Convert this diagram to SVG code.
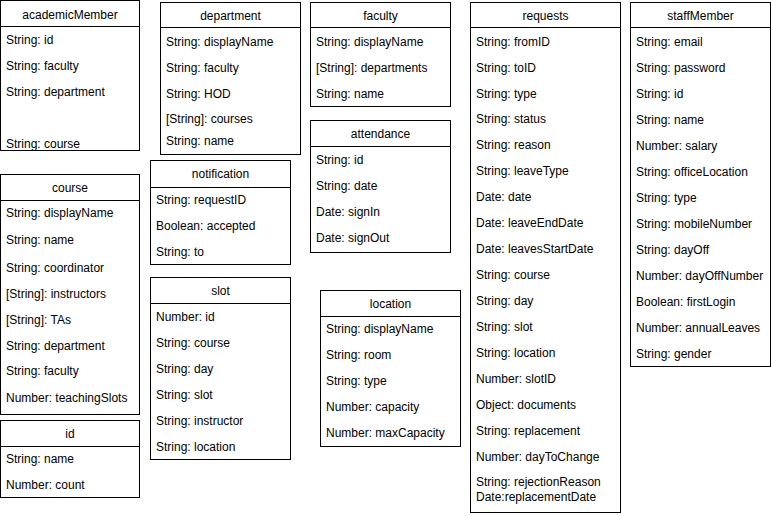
<svg xmlns="http://www.w3.org/2000/svg" width="771" height="516" viewBox="0 0 771 516">
<style>
.box{fill:#fff;stroke:#000;stroke-width:1}
.hd{stroke:#000;stroke-width:1}
text{font-family:"Liberation Sans",Arial,Helvetica,sans-serif;font-size:12px;fill:#000}
.t{text-anchor:middle}
</style>
<rect width="771" height="516" fill="#fff"/>
<g id="academicMember">
<rect class="box" x="0.5" y="0.5" width="139" height="150"/>
<line class="hd" x1="0.5" y1="26.5" x2="139.5" y2="26.5"/>
<text class="t" x="70" y="19">academicMember</text>
<text x="6" y="44">String: id</text>
<text x="6" y="70">String: faculty</text>
<text x="6" y="96">String: department</text>
<text x="6" y="148">String: course</text>
</g>
<g id="department">
<rect class="box" x="160.5" y="2.5" width="140" height="152"/>
<line class="hd" x1="160.5" y1="27.5" x2="300.5" y2="27.5"/>
<text class="t" x="230.5" y="20">department</text>
<text x="166" y="46">String: displayName</text>
<text x="166" y="72">String: faculty</text>
<text x="166" y="98">String: HOD</text>
<text x="166" y="123">[String]: courses</text>
<text x="166" y="145">String: name</text>
</g>
<g id="faculty">
<rect class="box" x="310.5" y="2.5" width="140" height="104"/>
<line class="hd" x1="310.5" y1="27.5" x2="450.5" y2="27.5"/>
<text class="t" x="380.5" y="20">faculty</text>
<text x="316" y="46">String: displayName</text>
<text x="316" y="72">[String]: departments</text>
<text x="316" y="98">String: name</text>
</g>
<g id="attendance">
<rect class="box" x="310.5" y="120.5" width="140" height="132"/>
<line class="hd" x1="310.5" y1="146.5" x2="450.5" y2="146.5"/>
<text class="t" x="380.5" y="138">attendance</text>
<text x="316" y="164">String: id</text>
<text x="316" y="190">String: date</text>
<text x="316" y="216">Date: signIn</text>
<text x="316" y="242">Date: signOut</text>
</g>
<g id="requests">
<rect class="box" x="470.5" y="2.5" width="150" height="510"/>
<line class="hd" x1="470.5" y1="27.5" x2="620.5" y2="27.5"/>
<text class="t" x="545.5" y="20">requests</text>
<text x="476" y="46">String: fromID</text>
<text x="476" y="72">String: toID</text>
<text x="476" y="98">String: type</text>
<text x="476" y="123">String: status</text>
<text x="476" y="149">String: reason</text>
<text x="476" y="175">String: leaveType</text>
<text x="476" y="201">Date: date</text>
<text x="476" y="227">Date: leaveEndDate</text>
<text x="476" y="253">Date: leavesStartDate</text>
<text x="476" y="279">String: course</text>
<text x="476" y="305">String: day</text>
<text x="476" y="331">String: slot</text>
<text x="476" y="357">String: location</text>
<text x="476" y="383">Number: slotID</text>
<text x="476" y="409">Object: documents</text>
<text x="476" y="435">String: replacement</text>
<text x="476" y="461">Number: dayToChange</text>
<text x="476" y="486">String: rejectionReason</text>
<text x="476" y="501">Date:replacementDate</text>
</g>
<g id="staffMember">
<rect class="box" x="630.5" y="2.5" width="140" height="364"/>
<line class="hd" x1="630.5" y1="27.5" x2="770.5" y2="27.5"/>
<text class="t" x="700.5" y="20">staffMember</text>
<text x="636" y="46">String: email</text>
<text x="636" y="72">String: password</text>
<text x="636" y="98">String: id</text>
<text x="636" y="124">String: name</text>
<text x="636" y="150">Number: salary</text>
<text x="636" y="176">String: officeLocation</text>
<text x="636" y="202">String: type</text>
<text x="636" y="228">String: mobileNumber</text>
<text x="636" y="254">String: dayOff</text>
<text x="636" y="280">Number: dayOffNumber</text>
<text x="636" y="306">Boolean: firstLogin</text>
<text x="636" y="332">Number: annualLeaves</text>
<text x="636" y="358">String: gender</text>
</g>
<g id="course">
<rect class="box" x="0.5" y="174.5" width="139" height="240"/>
<line class="hd" x1="0.5" y1="200.5" x2="139.5" y2="200.5"/>
<text class="t" x="70" y="192">course</text>
<text x="6" y="217">String: displayName</text>
<text x="6" y="244">String: name</text>
<text x="6" y="272">String: coordinator</text>
<text x="6" y="298">[String]: instructors</text>
<text x="6" y="324">[String]: TAs</text>
<text x="6" y="350">String: department</text>
<text x="6" y="375">String: faculty</text>
<text x="6" y="402">Number: teachingSlots</text>
</g>
<g id="id">
<rect class="box" x="0.5" y="420.5" width="139" height="77"/>
<line class="hd" x1="0.5" y1="446.5" x2="139.5" y2="446.5"/>
<text class="t" x="70" y="438">id</text>
<text x="6" y="463">String: name</text>
<text x="6" y="489">Number: count</text>
</g>
<g id="notification">
<rect class="box" x="150.5" y="160.5" width="140" height="104"/>
<line class="hd" x1="150.5" y1="187.5" x2="290.5" y2="187.5"/>
<text class="t" x="220.5" y="178">notification</text>
<text x="156" y="204">String: requestID</text>
<text x="156" y="230">Boolean: accepted</text>
<text x="156" y="256">String: to</text>
</g>
<g id="slot">
<rect class="box" x="150.5" y="277.5" width="140" height="182"/>
<line class="hd" x1="150.5" y1="303.5" x2="290.5" y2="303.5"/>
<text class="t" x="220.5" y="295">slot</text>
<text x="156" y="321">Number: id</text>
<text x="156" y="347">String: course</text>
<text x="156" y="373">String: day</text>
<text x="156" y="399">String: slot</text>
<text x="156" y="425">String: instructor</text>
<text x="156" y="451">String: location</text>
</g>
<g id="location">
<rect class="box" x="320.5" y="290.5" width="140" height="156"/>
<line class="hd" x1="320.5" y1="316.5" x2="460.5" y2="316.5"/>
<text class="t" x="390.5" y="308">location</text>
<text x="326" y="333">String: displayName</text>
<text x="326" y="359">String: room</text>
<text x="326" y="385">String: type</text>
<text x="326" y="411">Number: capacity</text>
<text x="326" y="437">Number: maxCapacity</text>
</g>
<g id="connectors"></g>
</svg>
